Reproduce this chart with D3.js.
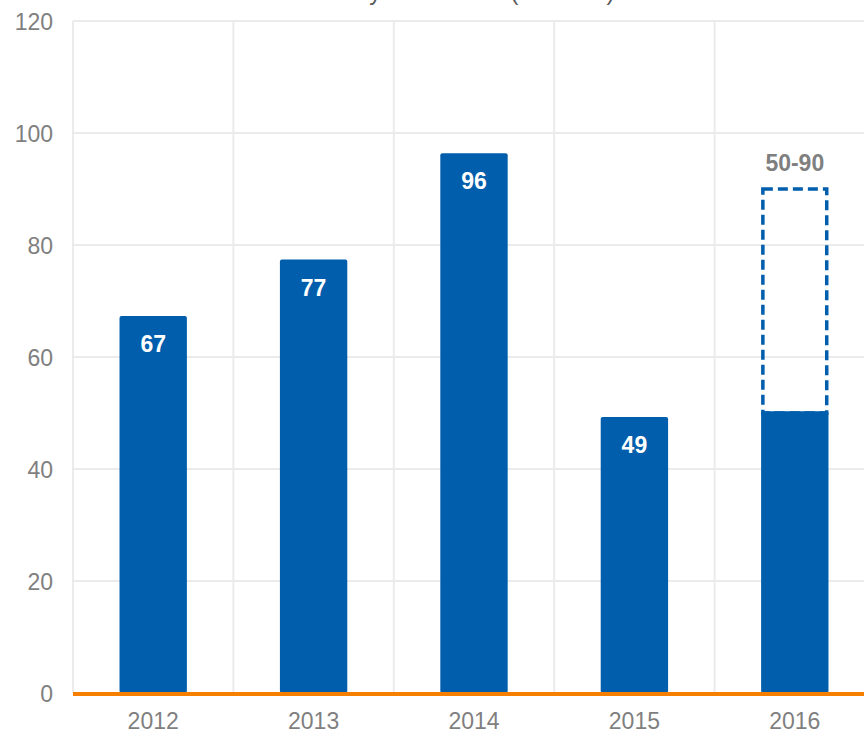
<!DOCTYPE html>
<html>
<head>
<meta charset="utf-8">
<script src="https://cdn.jsdelivr.net/npm/d3@7"></script>
<style>
  body { margin: 0; background: #fff; }
  svg { display: block; font-family: Arial, "Liberation Sans", sans-serif; }
</style>
</head>
<body>
<div id="chart"></div>
<script>
// chart data
var years = ["2012", "2013", "2014", "2015", "2016"];
var values = [67.3, 77.4, 96.4, 49.3, 50.3];
var rangeLow = 50, rangeHigh = 90;   // 2016 estimate range
var rangeLabel = "50-90";
var yTicks = [0, 20, 40, 60, 80, 100, 120];
var title = "Yearly investment (€ million)";

var width = 864,
    height = 734;

var plotLeft = 73, plotRight = 875, plotTop = 21, plotBottom = 693;

var svg = d3.select("#chart").append("svg")
    .attr("width", width)
    .attr("height", height);

var x = d3.scaleBand()
    .domain(years)
    .range([plotLeft, plotRight])
    .paddingInner(0.58)
    .paddingOuter(0.29);

var y = d3.scaleLinear()
    .domain([0, 120])
    .range([plotBottom, plotTop]);

var step = x.step();

// title (clipped at the top of the picture, as in the source)
svg.append("text")
    .attr("x", 465)
    .attr("y", 0)
    .attr("text-anchor", "middle")
    .style("font-size", "24px")
    .style("fill", "#595959")
    .text(title);

// horizontal grid
svg.append("g").selectAll("line")
    .data(yTicks)
    .enter()
    .append("line")
    .attr("x1", plotLeft)
    .attr("x2", width)
    .attr("y1", function(d) { return y(d); })
    .attr("y2", function(d) { return y(d); })
    .style("stroke", "#ebebeb")
    .style("stroke-width", 2);

// vertical grid, at band edges
svg.append("g").selectAll("line")
    .data(years)
    .enter()
    .append("line")
    .attr("x1", function(d) { return x(d) - step * 0.29; })
    .attr("x2", function(d) { return x(d) - step * 0.29; })
    .attr("y1", y(120))
    .attr("y2", y(0))
    .style("stroke", "#ebebeb")
    .style("stroke-width", 2);

// y axis labels
var yAxis = d3.axisLeft(y).tickValues(yTicks).tickSize(0).tickPadding(20);
svg.append("g")
    .attr("transform", "translate(" + plotLeft + ",1)")
    .call(yAxis)
    .call(function(g) { g.select(".domain").remove(); })
    .selectAll("text")
    .style("font-size", "23px")
    .style("font-family", "Arial, 'Liberation Sans', sans-serif")
    .style("fill", "#7f7f7f");

// bars
svg.append("g").selectAll("rect")
    .data(years)
    .enter()
    .append("rect")
    .attr("x", function(d) { return x(d); })
    .attr("y", function(d, i) { return y(values[i]); })
    .attr("width", x.bandwidth())
    .attr("height", function(d, i) { return y(0) - y(values[i]); })
    .attr("rx", 2)
    .style("fill", "#005eac");

// dashed range box for 2016
svg.append("rect")
    .attr("x", x("2016") + 1.75)
    .attr("y", y(rangeHigh))
    .attr("width", x.bandwidth() - 3.5)
    .attr("height", y(rangeLow) - y(rangeHigh))
    .style("fill", "none")
    .style("stroke", "#005eac")
    .style("stroke-width", 3.5)
    .style("stroke-dasharray", "10,5");

svg.append("text")
    .attr("x", x("2016") + x.bandwidth() / 2)
    .attr("y", y(rangeHigh) - 18)
    .attr("text-anchor", "middle")
    .style("font-size", "23px")
    .style("font-weight", "bold")
    .style("fill", "#7f7f7f")
    .text(rangeLabel);

// value labels inside bars (not for 2016)
svg.append("g").selectAll("text")
    .data(years.slice(0, 4))
    .enter()
    .append("text")
    .attr("x", function(d) { return x(d) + x.bandwidth() / 2; })
    .attr("y", function(d, i) { return y(values[i]) + 36; })
    .attr("text-anchor", "middle")
    .style("font-size", "23px")
    .style("font-weight", "bold")
    .style("fill", "#fff")
    .text(function(d, i) { return Math.round(values[i]); });

// orange baseline
svg.append("line")
    .attr("x1", plotLeft)
    .attr("x2", width)
    .attr("y1", y(0) + 1)
    .attr("y2", y(0) + 1)
    .style("stroke", "#f77f00")
    .style("stroke-width", 4);

// x axis labels
var xAxis = d3.axisBottom(x).tickSize(0).tickPadding(20);
svg.append("g")
    .attr("transform", "translate(0," + plotBottom + ")")
    .call(xAxis)
    .call(function(g) { g.select(".domain").remove(); })
    .selectAll("text")
    .style("font-size", "23px")
    .style("font-family", "Arial, 'Liberation Sans', sans-serif")
    .style("fill", "#7f7f7f");
</script>
</body>
</html>
